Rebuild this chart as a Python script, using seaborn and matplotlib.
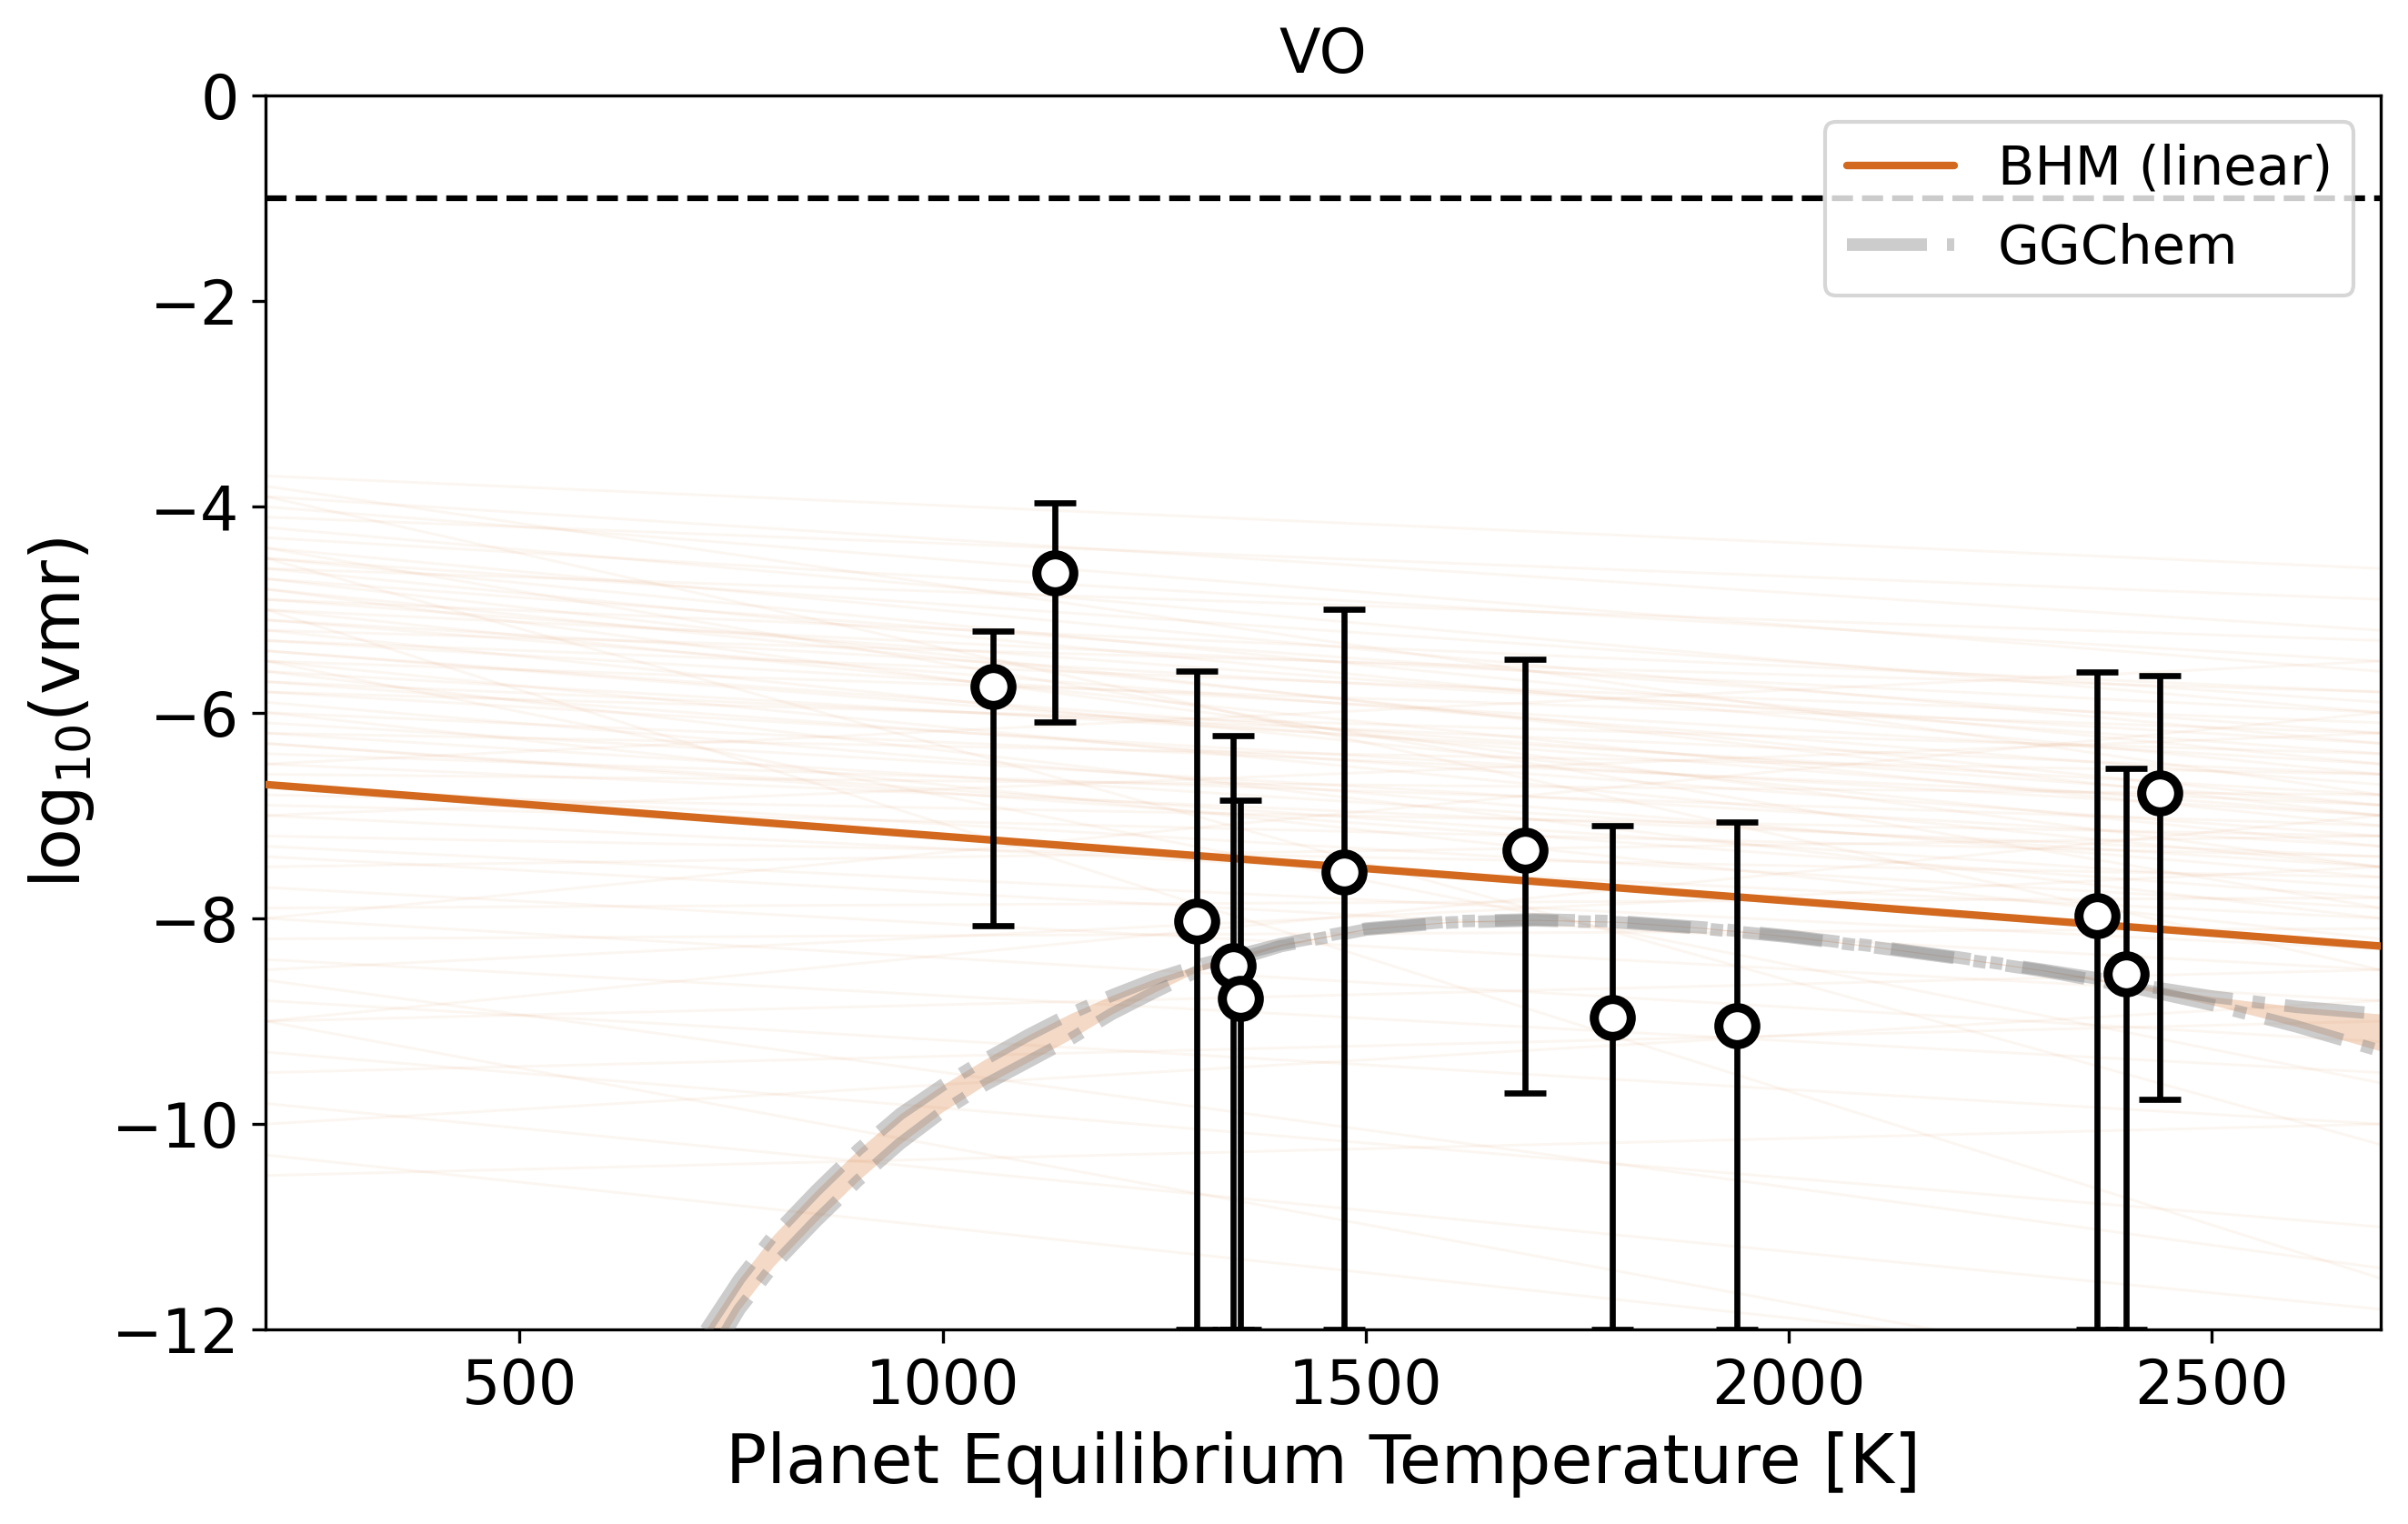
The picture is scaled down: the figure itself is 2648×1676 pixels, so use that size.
import numpy as np
import pandas as pd
import matplotlib
matplotlib.use("Agg")
import matplotlib.pyplot as plt
import seaborn as sns
from matplotlib.lines import Line2D

# ---------------- data ----------------
planet_teq = [1060, 1133, 1300, 1343, 1352, 1474, 1688, 1792, 1939, 2365, 2399, 2439]
vmr_median = [-5.75, -4.64, -8.03, -8.46, -8.78, -7.55, -7.34, -8.96, -9.04, -7.97, -8.54, -6.78]
vmr_upper = [-5.21, -3.96, -5.60, -6.22, -6.85, -5.00, -5.48, -7.10, -7.06, -5.61, -6.54, -5.64]
vmr_lower = [-8.07, -6.09, -12.0, -12.0, -12.0, -12.0, -9.70, -12.0, -12.0, -12.0, -12.0, -9.76]

# BHM linear fit: value at the two ends of the temperature range
bhm_teq = [200, 2700]
bhm_vmr = [-6.70, -8.27]

# posterior sample lines: value at T=200 and at T=2700
sample_left = [-4.2, -4.4, -4.5, -4.6, -4.7, -4.8, -4.9, -5.0, -5.0, -5.1,
               -5.2, -5.3, -5.4, -5.5, -5.5, -5.6, -5.7, -5.8, -5.9, -6.0,
               -6.1, -6.2, -6.3, -6.4, -6.5, -6.6, -6.7, -6.8, -4.3, -4.0,
               -3.9, -4.6, -5.2, -4.8, -5.6, -6.0, -5.3, -4.9, -5.8, -6.2,
               -7.0, -7.2, -7.4, -7.5, -7.7, -7.9, -8.0, -8.2, -8.4, -8.5,
               -8.8, -9.0, -9.3, -9.5, -9.8, -10.0, -10.3, -10.5, -9.0, -8.6,
               -3.7, -3.8, -4.1, -4.4, -3.9, -4.5, -5.0, -5.5, -6.5, -7.0,
               -8.0, -9.0, -4.5, -5.1, -5.7, -6.3, -4.7, -5.4, -6.9, -7.3]
sample_right = [-6.0, -6.3, -5.9, -6.6, -6.2, -6.9, -6.4, -7.1, -6.0, -6.7,
                -7.3, -6.5, -7.0, -6.2, -7.5, -6.8, -7.2, -6.4, -7.6, -6.9,
                -7.3, -6.6, -7.8, -7.1, -7.4, -6.8, -7.9, -7.2, -5.5, -5.6,
                -5.2, -5.3, -5.8, -7.5, -8.0, -8.2, -6.1, -5.8, -7.0, -7.5,
                -8.0, -7.6, -8.5, -7.2, -8.8, -7.8, -9.2, -8.1, -9.5, -7.5,
                -10.0, -8.5, -11.0, -9.0, -11.8, -8.8, -12.5, -10.0, -12.8, -11.4,
                -4.6, -6.8, -4.9, -7.9, -8.5, -10.2, -11.5, -9.6, -5.5, -6.2,
                -6.0, -7.0, -6.5, -6.3, -6.6, -7.7, -7.0, -6.9, -7.4, -8.3]

# GGChem equilibrium-chemistry predictions (two curves, shaded between)
ggchem_teq = [720, 760, 800, 850, 900, 950, 1000, 1050, 1100, 1150, 1200, 1250, 1300,
              1400, 1500, 1600, 1700, 1800, 1900, 2000, 2100, 2200, 2300, 2400, 2500, 2600, 2700]
ggchem_a = [-12.0, -11.5, -11.08, -10.65, -10.25, -9.90, -9.62, -9.37, -9.14, -8.93, -8.75, -8.59, -8.46,
            -8.25, -8.10, -8.03, -8.01, -8.03, -8.09, -8.17, -8.27, -8.38, -8.50, -8.63, -8.76, -8.86, -8.93]
ggchem_b = [-12.35, -11.8, -11.38, -10.95, -10.55, -10.19, -9.88, -9.62, -9.40, -9.18, -8.93, -8.72, -8.52,
            -8.27, -8.11, -8.04, -8.02, -8.04, -8.10, -8.18, -8.28, -8.39, -8.51, -8.66, -8.84, -9.05, -9.29]

upper_limit = -1.0
x_ticks = [500, 1000, 1500, 2000, 2500]
y_ticks = [0, -2, -4, -6, -8, -10, -12]

# ---------------- style ----------------
sns.set_style("ticks")
plt.rcParams["font.family"] = ["DejaVu Sans"]
plt.rcParams["axes.linewidth"] = 0.8
for k in ["text.color", "axes.labelcolor", "xtick.color", "ytick.color", "axes.edgecolor"]:
    plt.rcParams[k] = "black"

ORANGE = "chocolate"

fig = plt.figure(figsize=(2648 / 300, 1676 / 300), dpi=300)
ax = fig.add_axes([0.1104, 0.1274, 0.8783, 0.8101])

# posterior samples
for yl, yr in zip(sample_left, sample_right):
    ax.plot(bhm_teq, [yl, yr], color=ORANGE, alpha=0.06, lw=0.7, zorder=1)

# GGChem band
gg = pd.DataFrame({"T": ggchem_teq, "a": ggchem_a, "b": ggchem_b})
ax.fill_between(gg["T"], gg["a"], gg["b"], color=ORANGE, alpha=0.25, lw=0, zorder=2)
sns.lineplot(data=gg, x="T", y="a", ax=ax, color="gray", alpha=0.4, lw=3.3,
             linestyle="-.", zorder=3, legend=False)
sns.lineplot(data=gg, x="T", y="b", ax=ax, color="gray", alpha=0.4, lw=3.3,
             linestyle="-.", zorder=3, legend=False)

# BHM line
bhm = pd.DataFrame({"T": bhm_teq, "v": bhm_vmr})
sns.lineplot(data=bhm, x="T", y="v", ax=ax, color=ORANGE, lw=2, zorder=4, legend=False)

# upper limit line
ax.axhline(upper_limit, color="k", ls="--", lw=1.5, zorder=4)

# data with error bars
pts = pd.DataFrame({"T": planet_teq, "m": vmr_median, "hi": vmr_upper, "lo": vmr_lower})
yerr = np.array([pts["m"] - pts["lo"], pts["hi"] - pts["m"]])
ax.errorbar(pts["T"], pts["m"], yerr=yerr, fmt="none", ecolor="k", elinewidth=1.6,
            capsize=5.5, capthick=1.6, zorder=5)
sns.scatterplot(data=pts, x="T", y="m", ax=ax, s=95, color="white", edgecolor="k",
                linewidth=2.4, zorder=6, legend=False)

ax.set_xlim(200, 2700)
ax.set_ylim(-12, 0)
ax.set_xticks(x_ticks)
ax.set_yticks(y_ticks)
ax.tick_params(labelsize=16, length=3.5, width=0.8, direction="out", colors="black")
for s in ax.spines.values():
    s.set_visible(True)
    s.set_color("k")
ax.set_xlabel("Planet Equilibrium Temperature [K]", fontsize=18)
ax.set_ylabel(r"log$_{10}$(vmr)", fontsize=18)
ax.set_title("VO", fontsize=16)

handles = [Line2D([0], [0], color=ORANGE, lw=2),
           Line2D([0], [0], color="gray", alpha=0.4, lw=3.3, ls="-.")]
ax.legend(handles, ["BHM (linear)", "GGChem"], loc="upper right", fontsize=14.2)

fig.savefig("out.png", dpi=300)
